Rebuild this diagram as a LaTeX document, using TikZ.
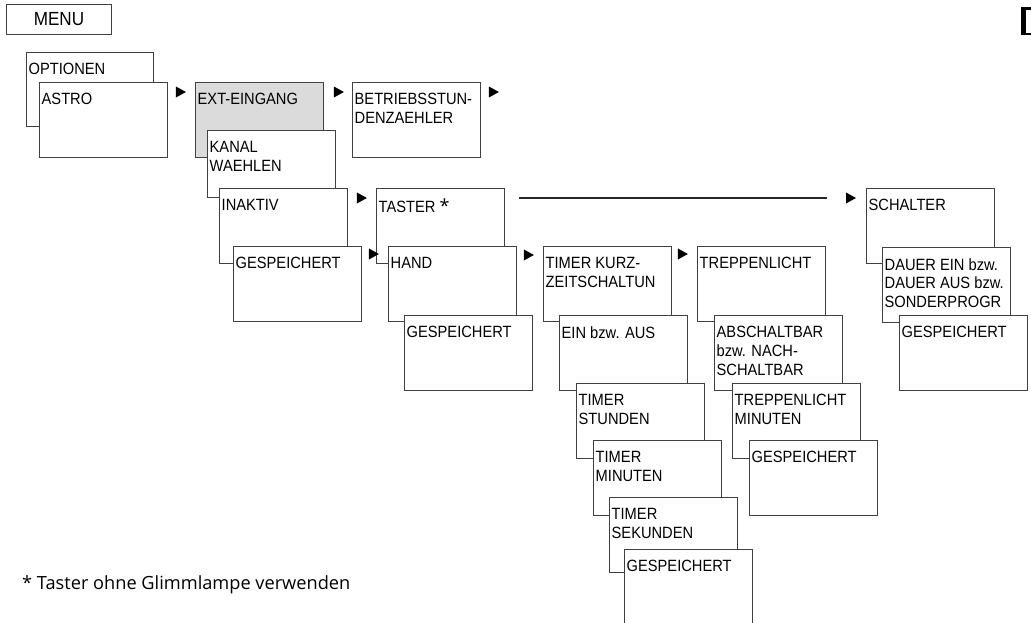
\documentclass[tikz,border=0pt]{standalone}
\usepackage{fontspec}
\setmainfont{Liberation Sans}
\newfontfamily\kastenfont[FakeStretch=0.9]{Liberation Sans}
\newfontfamily\fussfont{Open Sans}
\tikzset{
  kasten/.style={draw=black!75, line width=0.9pt, fill=white, minimum width=128pt,
    minimum height=75pt, anchor=north west, inner sep=0pt},
  kastentext/.style={anchor=north west, inner sep=0pt, align=left,
    font=\kastenfont\fontsize{16.3}{18.8}\selectfont},
  fusstext/.style={anchor=base west, inner sep=0pt, font=\fussfont\fontsize{18.2}{20}\selectfont},
}
% box with its text in the upper left corner
\newcommand{\kasten}[4][]{%
  \node[kasten,#1] (#2) at (#3) {};
  \node[kastentext] (#2-t) at ([shift={(2.5,11)}]#2.north west) {#4};
}
% black marker
\newcommand{\pfeil}[1]{\fill[black] #1 -- ++(0,-5.5) -- ++(10,5.5) -- ++(-10,5.5) -- cycle;}
\begin{document}
\begin{tikzpicture}[x=1pt, y=-1pt]
  \useasboundingbox (0,0) rectangle (1031,622);
  % menu
  \node[kasten, minimum width=105pt, minimum height=30pt,
    font=\kastenfont\fontsize{19}{19}\selectfont] (menu) at (6,4) {MENU};
  % optionen
  \kasten[minimum width=127pt, minimum height=74pt]{optionen}{26,52}{OPTIONEN}
  \kasten{astro}{39,82}{ASTRO}
  % ext-eingang
  \kasten[fill=black!14]{ext}{195,82}{EXT-EINGANG}
  \kasten[minimum height=67pt]{kanal}{207,130}{KANAL\\WAEHLEN}
  \kasten{inaktiv}{219,188}{INAKTIV}
  \kasten{gespa}{233,246}{GESPEICHERT}
  \kasten{betrieb}{352,82}{BETRIEBSSTUN-\\DENZAEHLER}
  % taster
  \kasten{taster}{376,188}{TASTER {\fussfont\fontsize{18}{18}\selectfont *}}
  \kasten{hand}{388,246}{HAND}
  \kasten{gespb}{404,315}{GESPEICHERT}
  % timer
  \kasten{timer}{543,246}{TIMER KURZ-\\ZEITSCHALTUN}
  \kasten{einaus}{559,315}{EIN bzw. AUS}
  \kasten{stunden}{576,383}{TIMER\\STUNDEN}
  \kasten{minuten}{593,440}{TIMER\\MINUTEN}
  \kasten{sekunden}{609,497}{TIMER\\SEKUNDEN}
  \kasten{gespc}{624,549}{GESPEICHERT}
  % treppenlicht
  \kasten{treppe}{697,246}{TREPPENLICHT}
  \kasten{abschalt}{714,315}{ABSCHALTBAR\\bzw. NACH-\\SCHALTBAR}
  \kasten{trmin}{732,383}{TREPPENLICHT\\MINUTEN}
  \kasten{gespd}{749,440}{GESPEICHERT}
  % schalter
  \kasten{schalter}{866,188}{SCHALTER}
  \kasten{dauer}{882,247}{DAUER EIN bzw.\\DAUER AUS bzw.\\SONDERPROGR}
  \kasten{gespe}{899,315}{GESPEICHERT}
  % markers
  \pfeil{([shift={(8,10)}]astro.north east)}
  \pfeil{([shift={(10,10)}]ext.north east)}
  \pfeil{([shift={(8,10)}]betrieb.north east)}
  \pfeil{([shift={(9,10)}]inaktiv.north east)}
  \pfeil{([shift={(7,8)}]gespa.north east)}
  \pfeil{([shift={(7,9)}]hand.north east)}
  \pfeil{([shift={(6,8)}]timer.north east)}
  \pfeil{([shift={(-20,10)}]schalter.north west)}
  \coordinate (l1) at ([shift={(14,10)}]taster.north east);
  \coordinate (l2) at ([shift={(-39,10)}]schalter.north west);
  \draw[line width=2pt, black!85] (l1) -- (l2);
  % tab at the right edge
  \fill[black] (1021,7) rectangle (1036,35);
  \fill[white] (1026,9.5) rectangle (1036,32.5);
  % footnote
  \node[fusstext] (fuss) at (22,589) {* Taster ohne Glimmlampe verwenden};
\end{tikzpicture}
\end{document}
